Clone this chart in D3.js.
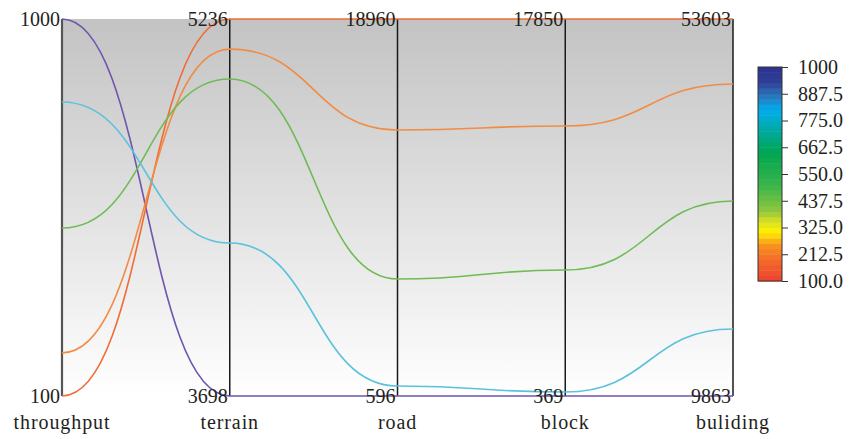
<!DOCTYPE html>
<html>
<head>
<meta charset="utf-8">
<script src="https://cdn.jsdelivr.net/npm/d3@7"></script>
<style>
  html, body { margin: 0; padding: 0; background: #ffffff; }
  svg text { font-family: "Liberation Serif", "Times New Roman", serif; fill: #231f20; }
</style>
</head>
<body>
<svg id="chart" width="849" height="439"></svg>
<script>
// Parallel-coordinate dimensions and their ranges
const dimensions = ["throughput", "terrain", "road", "block", "buliding"];
const domainMin = [100, 3698, 596, 369, 9863];
const domainMax = [1000, 5236, 18960, 17850, 53603];

// One value per record on each dimension
const throughput = [1000, 100, 203, 501, 802];
const terrain    = [3698, 5236, 5113, 4991, 4322];
const road       = [596, 18960, 13553, 6295, 1083];
const block      = [369, 17850, 12889, 6212, 554];
const building   = [9863, 53603, 46062, 32487, 17637];
const lineColors = ["#6f55b0", "#ef6d35", "#f28c44", "#6fbb55", "#5cc2dc"];

// Colour bar
const colorTicks = [1000, 887.5, 775.0, 662.5, 550.0, 437.5, 325.0, 212.5, 100.0];
const colorStops = [
  [0.00, "#ee4130"], [0.10, "#f36b2a"], [0.17, "#f7941d"], [0.23, "#fff200"],
  [0.28, "#d7df23"], [0.33, "#8dc63f"], [0.45, "#39b54a"], [0.60, "#00a651"],
  [0.70, "#00a99d"], [0.80, "#00aeef"], [0.87, "#2b73b6"], [0.93, "#2e3f96"],
  [1.00, "#2e3192"]
];

const svg = d3.select("#chart");
const plotTop = 19, plotBottom = 396;

const x = d3.scalePoint().domain(dimensions).range([62, 733]);
const yScales = dimensions.map((d, i) =>
  d3.scaleLinear().domain([domainMin[i], domainMax[i]]).range([plotBottom, plotTop]));

const columns = [throughput, terrain, road, block, building];
const records = throughput.map((_, r) => ({
  color: lineColors[r],
  values: columns.map(col => col[r])
}));

// Background gradient panel
const defs = svg.append("defs");
const bg = defs.append("linearGradient").attr("id", "bgGrad")
  .attr("x1", 0).attr("y1", 0).attr("x2", 0).attr("y2", 1);
bg.append("stop").attr("offset", "0%").attr("stop-color", "#c3c3c3");
bg.append("stop").attr("offset", "100%").attr("stop-color", "#ffffff");

svg.append("rect")
  .attr("x", x(dimensions[0])).attr("y", plotTop)
  .attr("width", x(dimensions[4]) - x(dimensions[0]))
  .attr("height", plotBottom - plotTop)
  .attr("fill", "url(#bgGrad)");

// Axes
dimensions.forEach((d, i) => {
  const xx = x(d);
  svg.append("line")
    .attr("x1", xx).attr("x2", xx).attr("y1", plotTop).attr("y2", plotBottom)
    .attr("stroke", i === 0 ? "#555" : "#1a1a1a")
    .attr("stroke-width", i === 0 ? 2.2 : 1.5);
});

// Record lines
const line = d3.line()
  .x((v, i) => x(dimensions[i]))
  .y((v, i) => yScales[i](v))
  .curve(d3.curveBumpX);

svg.append("g").selectAll("path")
  .data(records)
  .join("path")
  .attr("d", d => line(d.values))
  .attr("fill", "none")
  .attr("stroke", d => d.color)
  .attr("stroke-width", 1.6);

// Axis end labels and titles
dimensions.forEach((d, i) => {
  const xx = x(d);
  svg.append("text")
    .attr("x", xx - 2).attr("y", yScales[i](domainMax[i]))
    .attr("dy", "0.35em").attr("text-anchor", "end")
    .attr("font-size", 20).text(String(domainMax[i]));
  svg.append("text")
    .attr("x", xx - 2).attr("y", yScales[i](domainMin[i]))
    .attr("dy", "0.35em").attr("text-anchor", "end")
    .attr("font-size", 20).text(String(domainMin[i]));
  svg.append("text")
    .attr("x", xx).attr("y", 429)
    .attr("text-anchor", "middle")
    .attr("letter-spacing", "0.9px")
    .attr("font-size", 20).text(d);
});

// Colour bar, drawn in discrete bands
const cbX = 758, cbW = 24, cbTop = 67, cbBottom = 281;
const cbScale = d3.scaleLinear().domain([100, 1000]).range([cbBottom, cbTop]);
const stopScale = d3.scaleLinear()
  .domain(colorStops.map(s => s[0]))
  .range(colorStops.map(s => s[1]))
  .interpolate(d3.interpolateRgb);
const nBands = 40;
const bands = d3.range(nBands);
const bandH = (cbBottom - cbTop) / nBands;
svg.append("g").selectAll("rect")
  .data(bands)
  .join("rect")
  .attr("x", cbX)
  .attr("y", b => cbBottom - (b + 1) * bandH)
  .attr("width", cbW)
  .attr("height", bandH + 0.5)
  .attr("fill", b => stopScale((b + 0.5) / nBands));
svg.append("rect")
  .attr("x", cbX).attr("y", cbTop).attr("width", cbW).attr("height", cbBottom - cbTop)
  .attr("fill", "none").attr("stroke", "#333").attr("stroke-width", 1);

const cbAxis = d3.axisRight(cbScale)
  .tickValues(colorTicks)
  .tickSize(6)
  .tickPadding(10)
  .tickFormat(v => v === 1000 ? "1000" : d3.format(".1f")(v));
const cbG = svg.append("g").attr("transform", `translate(${cbX + cbW},0)`).call(cbAxis);
cbG.select(".domain").remove();
cbG.selectAll("line").attr("stroke", "#333");
cbG.selectAll("text")
  .attr("font-size", 20)
  .attr("font-family", "Liberation Serif, serif")
  .attr("fill", "#231f20");
</script>
</body>
</html>
